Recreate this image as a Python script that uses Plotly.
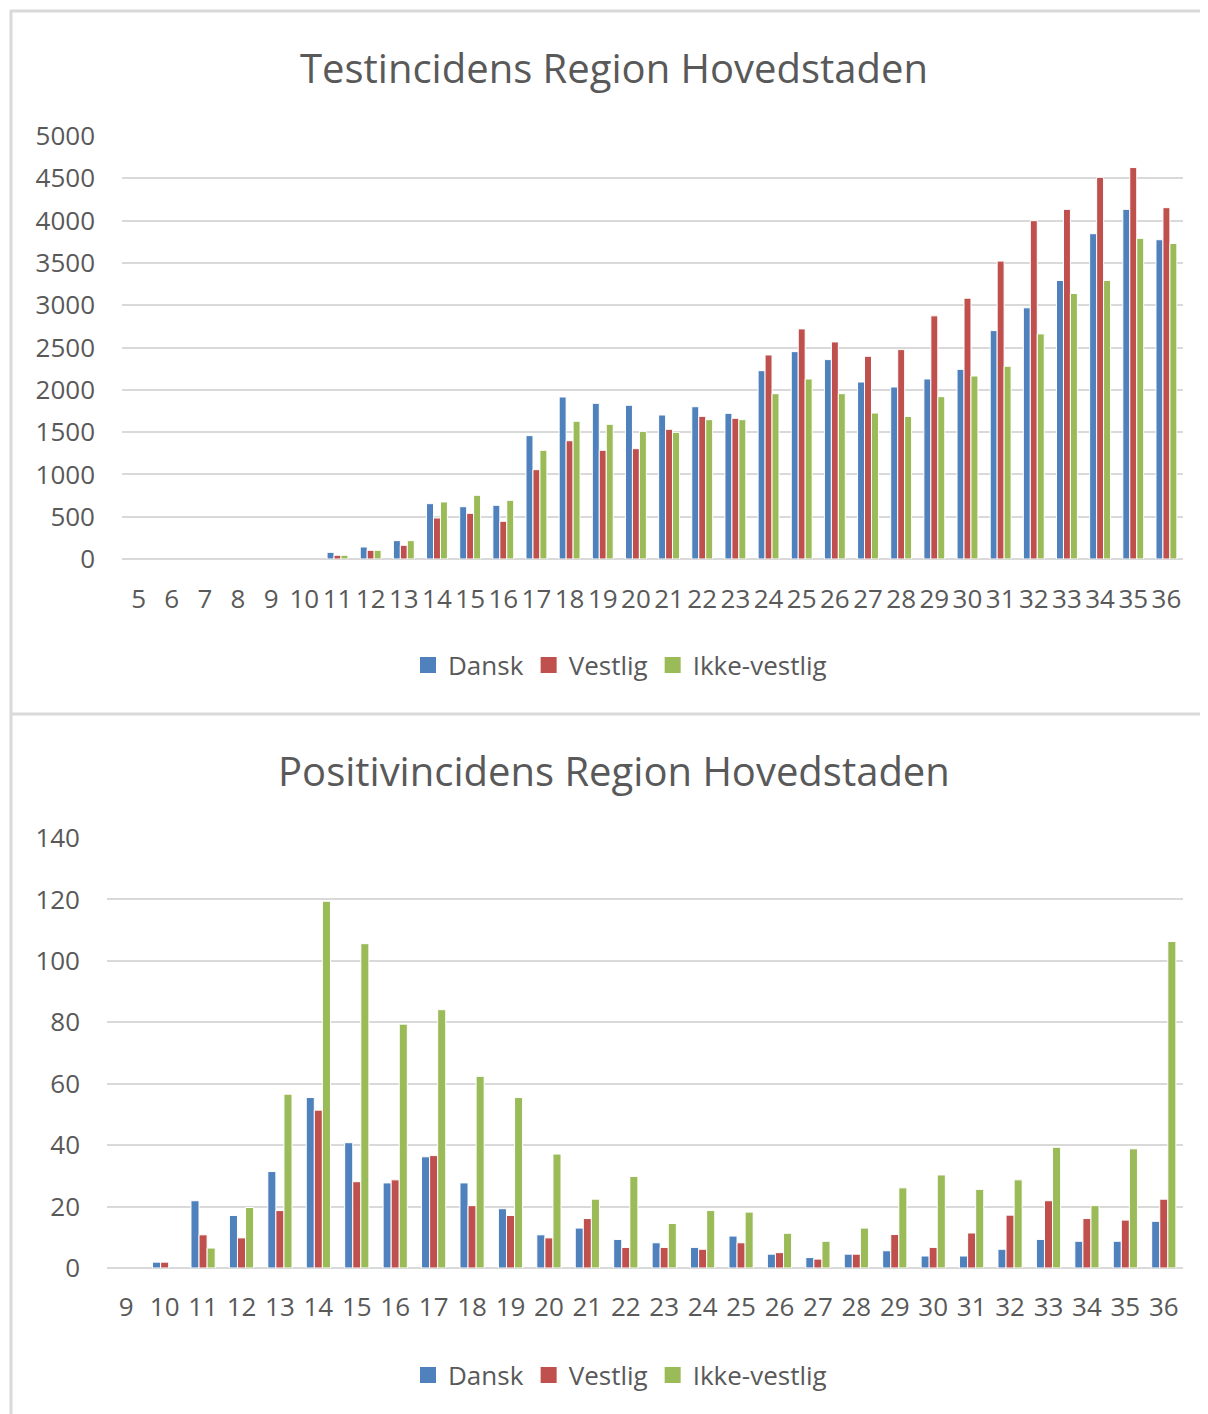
import plotly.graph_objects as go

# Uge-kategorier og værdier (None = ingen søjle)
test_weeks = ['5', '6', '7', '8', '9', '10', '11', '12', '13', '14', '15', '16', '17', '18', '19', '20',
              '21', '22', '23', '24', '25', '26', '27', '28', '29', '30', '31', '32', '33', '34', '35', '36']
dansk_test = [None, None, None, None, None, None, 79, 142, 217, 654, 618, 635, 1458, 1915, 1840, 1817,
              1702, 1800, 1722, 2226, 2451, 2357, 2092, 2033, 2128, 2242, 2700, 2969, 3292, 3845, 4133, 3774]
vestlig_test = [None, None, None, None, None, None, 44, 103, 162, 485, 540, 446, 1056, 1398, 1285, 1304,
                1533, 1686, 1663, 2412, 2720, 2566, 2396, 2475, 2874, 3083, 3521, 3999, 4133, 4512, 4627, 4153]
ikke_test = [None, None, None, None, None, None, 44, 103, 217, 674, 753, 694, 1285, 1628, 1592, 1509,
             1497, 1647, 1647, 1954, 2128, 1954, 1725, 1685, 1919, 2163, 2278, 2661, 3138, 3292, 3790, 3730]

pos_weeks = ['9', '10', '11', '12', '13', '14', '15', '16', '17', '18', '19', '20', '21', '22',
             '23', '24', '25', '26', '27', '28', '29', '30', '31', '32', '33', '34', '35', '36']
dansk_pos = [None, 1.9, 21.9, 17.1, 31.4, 55.5, 40.8, 27.7, 36.2, 27.7, 19.3, 10.8, 13, 9.3,
             8.2, 6.7, 10.4, 4.5, 3.4, 4.5, 5.6, 3.9, 3.9, 6.1, 9.3, 8.7, 8.7, 15.2]
vestlig_pos = [None, 1.9, 10.8, 9.8, 18.7, 51.4, 28.1, 28.7, 36.6, 20.3, 17.1, 9.8, 16.1, 6.7,
               6.7, 6.1, 8.2, 5.0, 2.9, 4.5, 10.9, 6.7, 11.4, 17.2, 21.9, 16.1, 15.6, 22.4]
ikke_pos = [None, None, 6.5, 19.7, 56.6, 119.4, 105.6, 79.4, 84.1, 62.4, 55.5, 37.1, 22.4, 29.8,
            14.5, 18.7, 18.2, 11.3, 8.7, 13, 26.1, 30.3, 25.6, 28.7, 39.3, 20.3, 38.8, 106.3]

series = ['Dansk', 'Vestlig', 'Ikke-vestlig']
colors = ['#4F81BD', '#C0504D', '#9BBB59']

# the page body has an 8px margin, so the figure is drawn 8px smaller and offset
OFF = 8
W, H = 1208 - OFF, 1414 - OFF
FONT = 'Open Sans'
GREY = '#595959'
GRID = '#D9D9D9'


def px(x):
    return (x - OFF) / W


def py(y):
    return 1 - (y - OFF) / H


fig = go.Figure()

for name, vals, col in zip(series, [dansk_test, vestlig_test, ikke_test], colors):
    fig.add_trace(go.Bar(name=name, x=test_weeks, y=vals, marker_color=col,
                         marker_line=dict(color='white', width=1), showlegend=False,
                         xaxis='x', yaxis='y'))

for name, vals, col in zip(series, [dansk_pos, vestlig_pos, ikke_pos], colors):
    fig.add_trace(go.Bar(name=name, x=pos_weeks, y=vals, marker_color=col,
                         marker_line=dict(color='white', width=1), showlegend=False,
                         xaxis='x2', yaxis='y2'))

# legend entries with square symbols, like the Excel legend
for lg, xa, ya in [('legend', 'x', 'y'), ('legend2', 'x2', 'y2')]:
    for name, col in zip(series, colors):
        fig.add_trace(go.Scatter(name=name, x=[None], y=[None], mode='markers',
                                 marker=dict(symbol='square', size=16, color=col),
                                 xaxis=xa, yaxis=ya, legend=lg))

axis_font = dict(family=FONT, size=26, color=GREY)
xcommon = dict(type='category', showgrid=False, showline=False, zeroline=False, automargin=False,
               tickfont=axis_font, ticks='', fixedrange=True)
ycommon = dict(showgrid=True, gridcolor=GRID, gridwidth=2, zeroline=True, zerolinecolor=GRID,
               zerolinewidth=2, showline=False, tickfont=axis_font, ticks='', fixedrange=True,
               automargin=False, ticklabelstandoff=26)

legend_common = dict(orientation='h', xanchor='center', yanchor='middle',
                     font=dict(family=FONT, size=26, color=GREY), bgcolor='rgba(0,0,0,0)',
                     itemwidth=30, traceorder='normal')

fig.update_layout(
    width=W, height=H, autosize=False,
    margin=dict(l=0, r=0, t=0, b=0, autoexpand=False),
    paper_bgcolor='white', plot_bgcolor='white',
    barmode='group', bargap=0.37, bargroupgap=0,
    xaxis=dict(domain=[px(122), px(1183)], anchor='y', ticklabelstandoff=22, **xcommon),
    yaxis=dict(domain=[py(559), py(136)], anchor='x', range=[0, 5000], dtick=500, **ycommon),
    xaxis2=dict(domain=[px(107), px(1183)], anchor='y2', ticklabelstandoff=21, **xcommon),
    yaxis2=dict(domain=[py(1268), py(838)], anchor='x2', range=[0, 140], dtick=20, **ycommon),
    legend=dict(x=px(620), y=py(665), **legend_common),
    legend2=dict(x=px(620), y=py(1375), **legend_common),
    annotations=[
        dict(text='Testincidens Region Hovedstaden', x=px(614), y=py(68), xref='paper', yref='paper',
             showarrow=False, xanchor='center', yanchor='middle',
             font=dict(family=FONT, size=40, color=GREY)),
        dict(text='Positivincidens Region Hovedstaden', x=px(614), y=py(770), xref='paper', yref='paper',
             showarrow=False, xanchor='center', yanchor='middle',
             font=dict(family=FONT, size=40, color=GREY)),
    ],
    shapes=[
        dict(type='line', xref='paper', yref='paper', x0=px(10), x1=1, y0=py(11), y1=py(11),
             line=dict(color=GRID, width=3)),
        dict(type='line', xref='paper', yref='paper', x0=px(11), x1=px(11), y0=py(10), y1=0,
             line=dict(color=GRID, width=3)),
        dict(type='line', xref='paper', yref='paper', x0=px(10), x1=1, y0=py(714), y1=py(714),
             line=dict(color=GRID, width=3)),
    ],
)

fig.write_html('out.html')
